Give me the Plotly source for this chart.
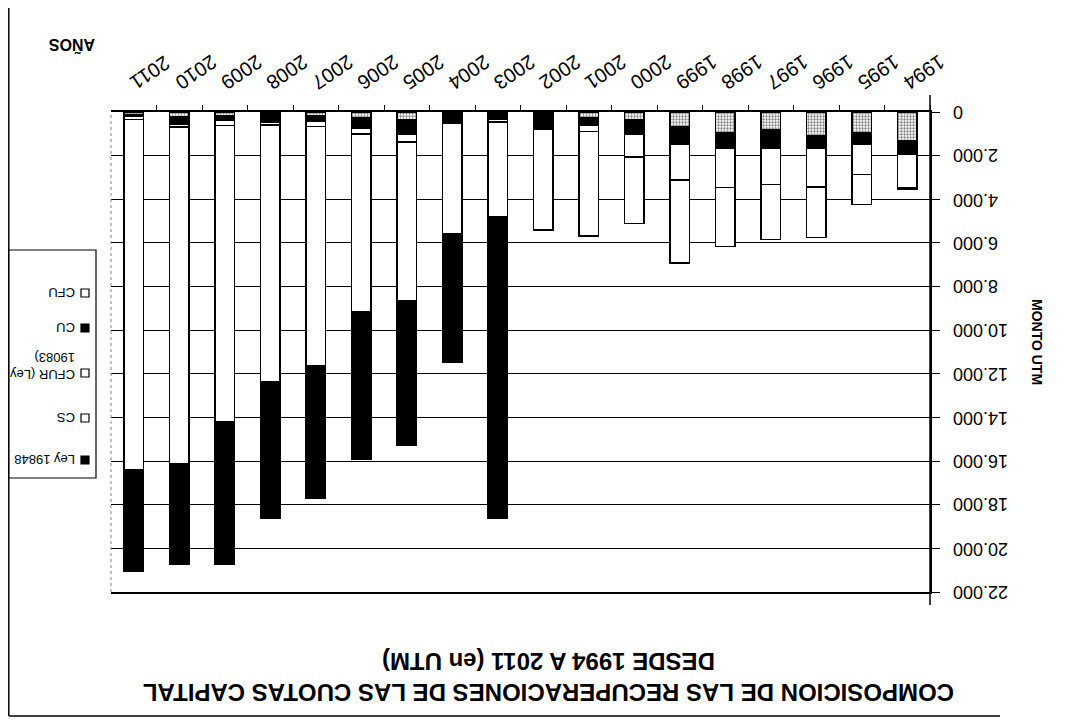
import plotly.graph_objects as go

# ---------------- data ----------------
years = ["1994", "1995", "1996", "1997", "1998", "1999", "2000", "2001", "2002",
         "2003", "2004", "2005", "2006", "2007", "2008", "2009", "2010", "2011"]
cfu = [1310, 960, 1070, 810, 960, 670, 350, 250, 100, 0, 0, 350, 250, 170, 100, 170, 200, 110]
cu = [640, 500, 580, 840, 690, 800, 655, 335, 670, 310, 400, 655, 490, 270, 370, 215, 380, 60]
cfur = [1525, 1406, 1786, 1681, 1805, 1635, 1070, 305, 0, 140, 100, 365, 275, 230, 120, 230, 100, 180]
cs = [60, 1374, 2308, 2519, 2702, 3815, 3037, 4795, 4626, 4337, 5098, 7300, 8152, 10946, 11757,
      13603, 15448, 16044]
ley19848 = [0, 0, 0, 0, 0, 0, 0, 0, 0, 13813, 5862, 6595, 6733, 6105, 6256, 6485, 4612, 4658]

series_names = ["CFU", "CU", "CFUR (Ley<br>19083)", "CS", "Ley 19848"]
ytick_vals = [0, 2000, 4000, 6000, 8000, 10000, 12000, 14000, 16000, 18000, 20000, 22000]
ytick_text = ["0", "2.000", "4.000", "6.000", "8.000", "10.000", "12.000", "14.000",
              "16.000", "18.000", "20.000", "22.000"]
title_lines = ["COMPOSICION DE LAS RECUPERACIONES DE LAS CUOTAS CAPITAL",
               "DESDE 1994 A 2011 (en UTM)"]
y_title = "MONTO UTM"
x_title = "AÑOS"

# ---------------- layout helpers (page pixel -> paper) ----------------
W, H = 1086, 723
OFF = 8  # the page body margin offsets the figure by 8px
L, R, T, B = 111 - OFF, 930 - OFF, 112 - OFF, 592 - OFF


def px(X):
    return (X - OFF - L) / (R - L)


def py(Y):
    return (B - (Y - OFF)) / (B - T)


FONT = "Liberation Sans, Arial, sans-serif"
line_style = dict(color="black", width=1.5)

fig = go.Figure()

styles = [
    dict(color="white", pattern=dict(shape=".", fgcolor="black", bgcolor="white", size=3, solidity=0.45)),
    dict(color="black"),
    dict(color="white"),
    dict(color="white"),
    dict(color="black"),
]
for name, vals, st in zip(series_names, [cfu, cu, cfur, cs, ley19848], styles):
    marker = dict(line=dict(color="black", width=1.6), **st)
    fig.add_trace(go.Bar(x=years, y=vals, name=name, marker=marker, showlegend=False))

annotations = []
# y tick labels (upside-down)
for v, t in zip(ytick_vals, ytick_text):
    annotations.append(dict(x=1, xref="paper", xshift=21, y=v, yref="y", xanchor="left",
                            yanchor="middle", textangle=180, text=t, showarrow=False,
                            font=dict(family=FONT, size=18, color="black")))
# axis titles
annotations.append(dict(x=px(1037), y=py(342), xref="paper", yref="paper", text="<b>%s</b>" % y_title,
                        xanchor="center", yanchor="middle",
                        textangle=90, showarrow=False, font=dict(family=FONT, size=14, color="black")))
annotations.append(dict(x=px(72), y=py(45), xref="paper", yref="paper", text="<b>%s</b>" % x_title,
                        xanchor="center", yanchor="middle",
                        textangle=180, showarrow=False, font=dict(family=FONT, size=16, color="black")))
# chart title
annotations.append(dict(x=px(549), y=py(677), xref="paper", yref="paper",
                        xanchor="center", yanchor="middle",
                        text="<b>" + "<br>".join(title_lines) + "</b>", textangle=180,
                        showarrow=False, font=dict(family=FONT, size=24, color="black")))

shapes = []
# outer chart border (left and bottom in this orientation)
shapes.append(dict(type="line", xref="paper", yref="paper", x0=px(8.8), x1=px(8.8), y0=py(0), y1=py(716),
                   line=dict(color="black", width=1.5)))
shapes.append(dict(type="line", xref="paper", yref="paper", x0=px(8.8), x1=px(1000), y0=py(716), y1=py(716),
                   line=dict(color="black", width=1.5)))
# dotted plot border on the left
shapes.append(dict(type="line", xref="paper", yref="paper", x0=0, x1=0, y0=0, y1=1,
                   line=dict(color="#888888", width=1, dash="dot")))
# value axis line extending a bit beyond the plot
shapes.append(dict(type="line", xref="paper", yref="paper", x0=1, x1=1, y0=py(605), y1=py(95),
                   line=line_style))

# legend box
shapes.append(dict(type="rect", xref="paper", yref="paper", x0=px(9), x1=px(96), y0=py(250), y1=py(478),
                   line=dict(color="black", width=1.2), fillcolor="white"))
legend_rows = [(293, 293), (328, 328), (366, 373), (418, 418), (460, 460)]
legend_fill = ["white", "black", "white", "white", "black"]
for name, (ty, sy), fc in zip(series_names, legend_rows, legend_fill):
    shapes.append(dict(type="rect", xref="paper", yref="paper", x0=px(81), x1=px(89),
                       y0=py(sy - 4), y1=py(sy + 4), line=dict(color="black", width=1.2), fillcolor=fc))
    annotations.append(dict(x=px(77), y=py(ty), xref="paper", yref="paper", xanchor="right",
                            yanchor="middle", text=name, textangle=180, align="left", showarrow=False,
                            font=dict(family=FONT, size=13, color="black")))

fig.update_layout(
    width=W, height=H,
    margin=dict(l=L, r=W - R, t=T, b=H - B, pad=0),
    barmode="stack", bargap=0.57,
    paper_bgcolor="white", plot_bgcolor="white",
    font=dict(family=FONT, color="black"),
    annotations=annotations, shapes=shapes,
    xaxis=dict(type="category", categoryorder="array", categoryarray=years,
               range=[len(years) - 0.5, -0.5],
               side="top", showline=True, linecolor="black", linewidth=1.5, mirror=True,
               ticks="outside", tickson="boundaries", ticklen=5, tickcolor="black",
               showticklabels=True, tickangle=146, ticklabelstandoff=5,
               tickfont=dict(family=FONT, size=20, color="black"),
               showgrid=False, fixedrange=True),
    yaxis=dict(range=[22000, 0], side="right", tickvals=ytick_vals, showticklabels=False,
               ticks="outside", ticklen=8, tickcolor="black", tickwidth=1.3,
               showgrid=True, gridcolor="black", gridwidth=1.3, zeroline=False,
               showline=True, linecolor="black", linewidth=1.5, fixedrange=True),
)

fig.write_html("out.html")
